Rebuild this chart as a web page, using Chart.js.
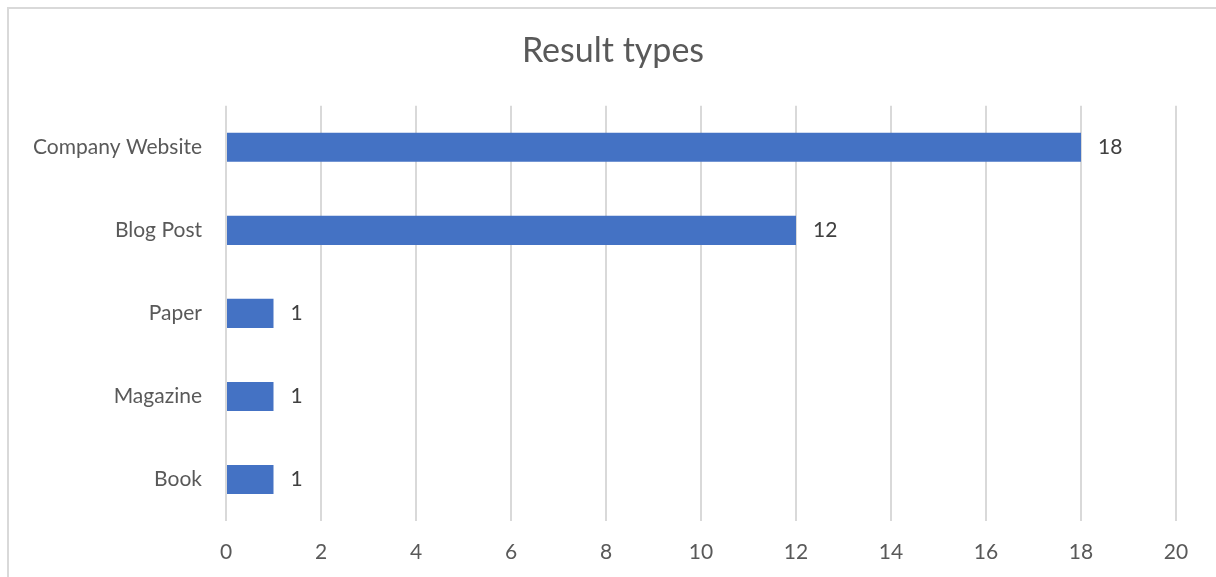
<!DOCTYPE html>
<html>
<head>
<meta charset="utf-8">
<script src="https://cdn.jsdelivr.net/npm/chart.js@4"></script>
<style>
  body { margin: 0; background: #fff; }
  #frame { position: absolute; left: 7px; top: 7px; width: 1300px; height: 700px;
           border-left: 2px solid #d9d9d9; border-top: 2px solid #d9d9d9; }
  #resultChart { position: absolute; left: 0; top: 0; }
</style>
</head>
<body>
<div id="frame"></div>
<canvas id="resultChart" width="1216" height="577"></canvas>
<script>
// Result types data
const categories = ['Company Website', 'Blog Post', 'Paper', 'Magazine', 'Book'];
const counts = [18, 12, 1, 1, 1];
const xTicks = [0, 2, 4, 6, 8, 10, 12, 14, 16, 18, 20];

const FONT = 'Lato, "Noto Sans", sans-serif';

// Value labels right of each bar
const barLabels = {
    id: 'barLabels',
    afterDatasetsDraw(chart) {
        const ctx = chart.ctx;
        const meta = chart.getDatasetMeta(0);
        ctx.save();
        ctx.font = '21px ' + FONT;
        ctx.fillStyle = '#404040';
        ctx.textAlign = 'left';
        ctx.textBaseline = 'middle';
        meta.data.forEach((bar, i) => {
            ctx.fillText(String(counts[i]), bar.x + 17, bar.y);
        });
        ctx.restore();
    }
};

const ctxResult = document.getElementById('resultChart').getContext('2d');
const resultChart = new Chart(ctxResult, {
    type: 'bar',
    data: {
        labels: categories,
        datasets: [{
            label: 'Result types',
            data: counts,
            backgroundColor: '#4472C4',
            borderWidth: 0,
            barPercentage: 0.35,
            categoryPercentage: 1.0
        }]
    },
    options: {
        indexAxis: 'y',
        responsive: false,
        animation: false,
        layout: { padding: { left: 10, right: 0, top: 0, bottom: 0 } },
        plugins: {
            legend: { display: false },
            tooltip: { enabled: false },
            title: {
                display: true,
                text: 'Result types',
                color: '#595959',
                font: { family: FONT, size: 34, weight: 'normal' },
                padding: { top: 31, bottom: 34 }
            }
        },
        scales: {
            x: {
                min: 0,
                max: 20,
                afterBuildTicks(scale) {
                    scale.ticks = xTicks.map(v => ({ value: v }));
                },
                afterFit(scale) {
                    scale.height = 56;
                    scale.paddingRight = 40;
                },
                grid: { color: '#d9d9d9', lineWidth: 2, drawTicks: false },
                border: { display: false },
                ticks: {
                    color: '#595959',
                    padding: 19,
                    font: { family: FONT, size: 21 }
                }
            },
            y: {
                afterFit(scale) { scale.width = 216; },
                grid: { display: false },
                border: { display: false },
                ticks: {
                    color: '#595959',
                    padding: 16,
                    font: { family: FONT, size: 21 }
                }
            }
        }
    },
    plugins: [barLabels]
});
</script>
</body>
</html>
